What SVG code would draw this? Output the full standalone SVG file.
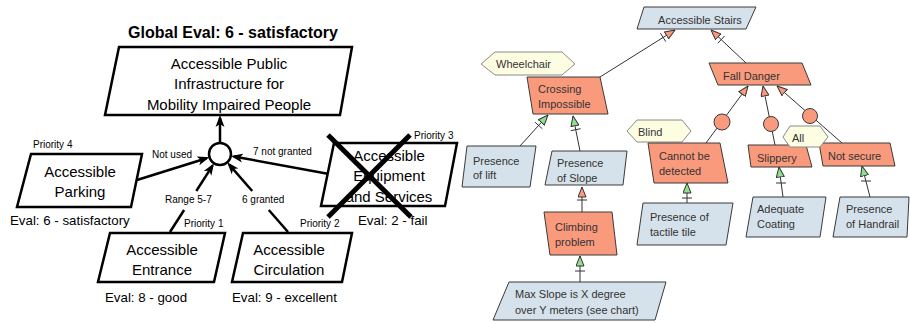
<svg xmlns="http://www.w3.org/2000/svg" width="910" height="323" viewBox="0 0 910 323">
<defs>
<style>
.lb{fill:#fff;stroke:#000;stroke-width:2.5;stroke-linejoin:miter}
.lt{font-family:"Liberation Sans",Arial,sans-serif;fill:#000}
.bt{font-size:15px;text-anchor:middle}
.ev{font-size:13.3px}
.sm{font-size:10px}
.kc{stroke:#000;stroke-width:2.5;fill:none}
.blue{fill:#d5e2eb;stroke:#3a3a3a;stroke-width:1}
.sal{fill:#fa9a7d;stroke:#3a3a3a;stroke-width:1}
.hex{fill:#fdfde2;stroke:#8a8a8a;stroke-width:1}
.rt{font-family:"Liberation Sans",Arial,sans-serif;font-size:11px;fill:#333}
.rc{stroke:#333;stroke-width:1;fill:none}
</style>
<marker id="ka" viewBox="0 0 12 10" refX="9" refY="5" markerWidth="12" markerHeight="10" markerUnits="userSpaceOnUse" orient="auto"><path d="M0,0.5 L12,5 L0,9.5 L3,5 z" fill="#000"/></marker>
<marker id="as" viewBox="0 0 11 9" refX="10.5" refY="4.5" markerWidth="11" markerHeight="9" markerUnits="userSpaceOnUse" orient="auto"><path d="M0.5,0.5 L10.5,4.5 L0.5,8.5 z" fill="#fa9a7d" stroke="#333" stroke-width="1"/></marker>
<marker id="ag" viewBox="0 0 11 9" refX="10.5" refY="4.5" markerWidth="11" markerHeight="9" markerUnits="userSpaceOnUse" orient="auto"><path d="M0.5,0.5 L10.5,4.5 L0.5,8.5 z" fill="#8fe08f" stroke="#333" stroke-width="1"/></marker>
</defs>
<rect width="910" height="323" fill="#fff"/>

<!-- LEFT DIAGRAM -->
<text class="lt" x="233" y="38" font-size="16" font-weight="bold" text-anchor="middle">Global Eval: 6 - satisfactory</text>

<g id="left-connectors">
<line class="kc" x1="220" y1="143" x2="220" y2="118" marker-end="url(#ka)"/>
<line class="kc" x1="137" y1="180" x2="206.6" y2="158.2" marker-end="url(#ka)"/>
<line class="kc" x1="329" y1="174" x2="233.8" y2="156.5" marker-end="url(#ka)"/>
<line class="kc" x1="170" y1="232" x2="184.1" y2="210"/>
<line class="kc" x1="196.3" y1="191" x2="212.4" y2="165.8" marker-end="url(#ka)"/>
<line class="kc" x1="288" y1="232" x2="268.8" y2="210"/>
<line class="kc" x1="252.2" y1="191" x2="229.2" y2="164.6" marker-end="url(#ka)"/>
<text class="lt sm" x="152" y="157.7">Not used</text>
<text class="lt sm" x="253" y="155">7 not granted</text>
<text class="lt sm" x="165" y="203">Range 5-7</text>
<text class="lt sm" x="242" y="203">6 granted</text>
</g>

<g id="and-node">
<circle cx="220" cy="154" r="11" fill="#fff" stroke="#000" stroke-width="2.5"/>
</g>

<g id="root">
<polygon class="lb" points="119,47 352,47 340,115 105,115"/>
<text class="lt bt" x="229" y="68.5">Accessible Public</text>
<text class="lt bt" x="229" y="89">Infrastructure for</text>
<text class="lt bt" x="229" y="109.5">Mobility Impaired People</text>
</g>

<g id="parking">
<polygon class="lb" points="31,154 142,154 131,207 17,207"/>
<text class="lt bt" x="80" y="177">Accessible</text>
<text class="lt bt" x="80" y="196.5">Parking</text>
<text class="lt sm" x="33" y="147.5">Priority 4</text>
<text class="lt ev" x="10" y="225">Eval: 6 - satisfactory</text>
</g>

<g id="equipment">
<polygon class="lb" points="334,143 457,143 445,206 321,206"/>
<text class="lt bt" x="389" y="161">Accessible</text>
<text class="lt bt" x="389" y="181">Equipment</text>
<text class="lt bt" x="389" y="201.5">and Services</text>
<line x1="328" y1="135" x2="411" y2="217" stroke="#000" stroke-width="5"/>
<line x1="410" y1="135" x2="328" y2="217" stroke="#000" stroke-width="5"/>
<text class="lt sm" x="414" y="139">Priority 3</text>
<text class="lt ev" x="358" y="225">Eval: 2 - fail</text>
</g>

<g id="entrance">
<polygon class="lb" points="110,233 225,233 214,282 98,282"/>
<text class="lt bt" x="162" y="255">Accessible</text>
<text class="lt bt" x="162" y="275">Entrance</text>
<text class="lt sm" x="184" y="227.3">Priority 1</text>
<text class="lt ev" x="105" y="301.7">Eval: 8 - good</text>
</g>

<g id="circulation">
<polygon class="lb" points="243,233 352,233 342,282 232,282"/>
<text class="lt bt" x="289" y="255">Accessible</text>
<text class="lt bt" x="289" y="275">Circulation</text>
<text class="lt sm" x="300" y="227.3">Priority 2</text>
<text class="lt ev" x="232" y="301.7">Eval: 9 - excellent</text>
</g>

<!-- RIGHT DIAGRAM -->
<g id="right-connectors">
<line class="rc" x1="600" y1="77" x2="675" y2="30" marker-end="url(#as)"/>
<line class="rc" x1="660.4" y1="33.2" x2="665.8" y2="41.6"/>
<line class="rc" x1="746" y1="63" x2="711" y2="30" marker-end="url(#as)"/>
<line class="rc" x1="724.6" y1="36" x2="717.8" y2="43.2"/>
<line class="rc" x1="706" y1="143" x2="748" y2="86" marker-end="url(#as)"/>
<line class="rc" x1="775" y1="145" x2="763" y2="86" marker-end="url(#as)"/>
<line class="rc" x1="842" y1="143" x2="777" y2="86" marker-end="url(#as)"/>
<line class="rc" x1="520" y1="146" x2="548" y2="115" marker-end="url(#ag)"/>
<line class="rc" x1="534.9" y1="122.1" x2="542.3" y2="128.7"/>
<line class="rc" x1="580" y1="151" x2="573" y2="116" marker-end="url(#ag)"/>
<line class="rc" x1="580.6" y1="128.7" x2="570.8" y2="130.7"/>
<line class="rc" x1="582" y1="212" x2="582" y2="187" marker-end="url(#as)"/>
<line class="rc" x1="577" y1="200" x2="587" y2="200"/>
<line class="rc" x1="580" y1="282" x2="580" y2="256" marker-end="url(#ag)"/>
<line class="rc" x1="575" y1="271" x2="585" y2="271"/>
<line class="rc" x1="687" y1="203" x2="687" y2="183" marker-end="url(#ag)"/>
<line class="rc" x1="682" y1="198" x2="692" y2="198"/>
<line class="rc" x1="783" y1="197" x2="779" y2="167" marker-end="url(#ag)"/>
<line class="rc" x1="776" y1="183" x2="786" y2="183"/>
<line class="rc" x1="870" y1="197" x2="862" y2="166" marker-end="url(#ag)"/>
<line class="rc" x1="861" y1="181" x2="871" y2="181"/>
</g>

<g id="c1"><circle cx="722" cy="122" r="8" class="sal"/></g>
<g id="c2"><circle cx="771" cy="124" r="7.5" class="sal"/></g>
<g id="c3"><circle cx="810" cy="116" r="7.5" class="sal"/></g>

<g id="stairs">
<polygon class="blue" points="644,7 756,7 746,29 637,29"/>
<text class="rt" x="700" y="24" text-anchor="middle">Accessible Stairs</text>
</g>

<g id="wheelchair">
<polygon class="hex" points="481,64 495,52 562,52 575,64 562,75 495,75"/>
<text class="rt" x="496" y="68">Wheelchair</text>
</g>

<g id="crossing">
<polygon class="sal" points="527,77 600,77 608,114 533,114"/>
<text class="rt" x="538" y="93.3">Crossing</text>
<text class="rt" x="538" y="108.3">Impossible</text>
</g>

<g id="fall">
<polygon class="sal" points="709,63 802,63 811,85 718,85"/>
<text class="rt" x="723" y="79.5">Fall Danger</text>
</g>

<g id="blind">
<polygon class="hex" points="627,131 637,120 682,120 691,131 682,142 637,142"/>
<text class="rt" x="638" y="136">Blind</text>
</g>

<g id="cannot">
<polygon class="sal" points="648,143 720,143 728,183 654,183"/>
<text class="rt" x="659" y="160">Cannot be</text>
<text class="rt" x="659" y="175">detected</text>
</g>

<g id="slippery">
<polygon class="sal" points="748,145 806,145 812,167 751,167"/>
<text class="rt" x="757" y="162">Slippery</text>
</g>

<g id="notsecure">
<polygon class="sal" points="819,143 890,143 895,166 823,166"/>
<text class="rt" x="828" y="160">Not secure</text>
</g>

<g id="all">
<polygon class="hex" points="783,137 790,126 820,126 828,137 820,147 790,147"/>
<text class="rt" x="792" y="141.7">All</text>
</g>

<g id="lift">
<polygon class="blue" points="467,146 536,146 530,187 462,187"/>
<text class="rt" x="473" y="164.5">Presence</text>
<text class="rt" x="473" y="179">of lift</text>
</g>

<g id="slope">
<polygon class="blue" points="552,151 627,151 623,185 545,185"/>
<text class="rt" x="557" y="167.3">Presence</text>
<text class="rt" x="557" y="182">of Slope</text>
</g>

<g id="climbing">
<polygon class="sal" points="544,212 612,212 617,255 550,255"/>
<text class="rt" x="555" y="231">Climbing</text>
<text class="rt" x="555" y="246">problem</text>
</g>

<g id="maxslope">
<polygon class="blue" points="509,282 666,282 655,320 493,320"/>
<text class="rt" x="515" y="298">Max Slope is X degree</text>
<text class="rt" x="515" y="313.5">over Y meters (see chart)</text>
</g>

<g id="tactile">
<polygon class="blue" points="643,203 733,203 726,245 637,245"/>
<text class="rt" x="650" y="220.7">Presence of</text>
<text class="rt" x="650" y="236">tactile tile</text>
</g>

<g id="coating">
<polygon class="blue" points="753,197 826,197 820,237 746,237"/>
<text class="rt" x="757" y="213.3">Adequate</text>
<text class="rt" x="757" y="228">Coating</text>
</g>

<g id="handrail">
<polygon class="blue" points="840,197 909,197 907,237 833,237"/>
<text class="rt" x="846" y="213.3">Presence</text>
<text class="rt" x="846" y="228">of Handrail</text>
</g>
</svg>
